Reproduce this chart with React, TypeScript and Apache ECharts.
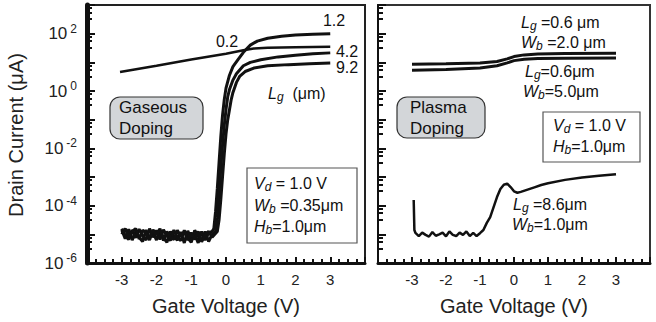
import React, { useEffect, useRef } from 'react';
import * as echarts from 'echarts';

const FF = '"Liberation Sans", Arial, Helvetica, sans-serif';

// Gate voltage ticks
const xTicks = [-3, -2, -1, 0, 1, 2, 3];

// ---- Left panel (Gaseous doping), log10 of drain current (uA) ----
const noiseV = [-3.0, -2.9, -2.8, -2.7, -2.6, -2.5, -2.4, -2.3, -2.2, -2.1, -2.0, -1.9, -1.8, -1.7, -1.6, -1.5, -1.4, -1.3, -1.2, -1.1, -1.0, -0.9, -0.8, -0.7, -0.6, -0.5, -0.4];
const noiseLg12 = [-4.85, -5.15, -4.82, -5.2, -4.9, -5.1, -5.25, -4.85, -5.12, -4.92, -5.2, -4.88, -5.1, -5.28, -4.9, -5.08, -5.2, -4.92, -5.3, -4.88, -5.18, -5.0, -5.3, -4.9, -5.2, -4.95, -4.9];
const noiseLg42 = [-4.8, -5.05, -5.18, -4.85, -5.12, -4.82, -5.05, -5.2, -4.8, -5.1, -4.86, -5.18, -4.84, -5.05, -5.22, -4.85, -5.1, -5.22, -4.86, -5.12, -5.28, -4.86, -5.08, -5.22, -4.9, -5.25, -5.0];
const noiseLg92 = [-5.0, -4.8, -5.1, -4.9, -4.8, -5.16, -4.86, -4.95, -5.2, -4.84, -5.02, -4.8, -5.22, -4.9, -5.1, -5.18, -4.86, -5.08, -4.9, -5.2, -4.94, -5.18, -4.9, -5.26, -5.0, -4.9, -5.1];

const riseV12 = [-0.35, -0.3, -0.25, -0.2, -0.15, -0.1, -0.05, 0, 0.1, 0.2, 0.35, 0.5, 0.7, 0.9, 1.2, 1.6, 2.0, 2.5, 3.0];
const riseLg12 = [-4.8, -4.2, -3.4, -2.5, -1.6, -0.85, -0.3, 0.1, 0.55, 0.85, 1.1, 1.35, 1.6, 1.74, 1.84, 1.91, 1.95, 1.98, 2.0];

const riseV42 = [-0.3, -0.25, -0.2, -0.15, -0.1, -0.05, 0, 0.05, 0.1, 0.2, 0.3, 0.5, 0.7, 1.0, 1.5, 2.0, 2.5, 3.0];
const riseLg42 = [-4.9, -4.4, -3.6, -2.7, -1.9, -1.2, -0.65, -0.2, 0.05, 0.38, 0.6, 0.88, 1.0, 1.09, 1.19, 1.25, 1.3, 1.33];

const riseV92 = [-0.25, -0.2, -0.15, -0.1, -0.05, 0, 0.05, 0.1, 0.15, 0.2, 0.3, 0.4, 0.55, 0.8, 1.2, 1.8, 2.4, 3.0];
const riseLg92 = [-4.9, -4.5, -3.8, -3.0, -2.2, -1.5, -1.0, -0.65, -0.3, -0.05, 0.3, 0.52, 0.68, 0.8, 0.88, 0.92, 0.95, 0.98];

const v02 = [-3.05, -2, -1, 0, 0.5, 0.8, 1.2, 2, 3];
const lg02 = [0.66, 0.88, 1.1, 1.3, 1.42, 1.48, 1.51, 1.53, 1.54];

// ---- Right panel (Plasma doping) ----
const vWide = [-3, -2, -1, -0.5, -0.2, 0, 0.3, 0.7, 1.5, 3];
const lgWb2 = [0.93, 0.95, 0.98, 1.03, 1.12, 1.2, 1.26, 1.29, 1.31, 1.32];
const lgWb5 = [0.72, 0.75, 0.8, 0.88, 0.98, 1.06, 1.11, 1.13, 1.14, 1.15];

const startV86 = [-2.95, -2.93];
const startLg86 = [-3.8, -4.85];
const noiseV86 = [-2.9, -2.8, -2.7, -2.6, -2.5, -2.4, -2.3, -2.2, -2.1, -2.0, -1.9, -1.8, -1.7, -1.6, -1.5, -1.4, -1.3, -1.2, -1.1, -1.0];
const noiseLg86 = [-4.95, -5.06, -4.94, -5.02, -5.08, -4.92, -5.05, -5.0, -4.94, -5.07, -4.9, -5.02, -5.06, -4.94, -5.02, -4.9, -5.06, -4.95, -5.06, -4.96];
const riseV86 = [-0.9, -0.8, -0.7, -0.6, -0.5, -0.4, -0.3, -0.2, -0.1, 0, 0.1, 0.2, 0.4, 0.6, 0.8, 1.0, 1.5, 2.0, 2.5, 3.0];
const riseLg86 = [-4.85, -4.6, -4.4, -4.05, -3.7, -3.42, -3.27, -3.23, -3.35, -3.5, -3.55, -3.52, -3.44, -3.36, -3.28, -3.22, -3.1, -3.02, -2.96, -2.9];

function pts(v: number[], lg: number[]) {
  return v.map((x, i) => [x, Math.pow(10, lg[i])]);
}

const rich: any = {
  n: { fontSize: 16, fontFamily: FF, fill: '#111', lineHeight: 17, verticalAlign: 'middle' },
  i: { fontSize: 16, fontFamily: FF, fontStyle: 'italic', fill: '#111', lineHeight: 17, verticalAlign: 'middle' },
  sub: { fontSize: 12, fontFamily: FF, fontStyle: 'italic', fill: '#111', verticalAlign: 'bottom', padding: [8, 0, 0, 0] },
  big: { fontSize: 17, fontFamily: FF, fill: '#111', lineHeight: 18, verticalAlign: 'middle' },
};

function txt(text: string, x: number, y: number, align = 'left') {
  return {
    type: 'text', x, y, z: 100,
    style: { text, rich, align, verticalAlign: 'middle', fontSize: 16, fontFamily: FF, fill: '#111' },
  };
}

function box(x: number, y: number, w: number, h: number, fill: string, r: number, stroke: string) {
  return { type: 'rect', z: 90, shape: { x, y, width: w, height: h, r }, style: { fill, stroke, lineWidth: 1.2 } };
}

function xAxisCfg(gridIndex: number) {
  return {
    type: 'value', gridIndex, min: -4, max: 4, interval: 1,
    axisLine: { show: true, onZero: false, lineStyle: { color: '#111', width: 3 } },
    axisTick: { show: true, inside: true, length: 6, lineStyle: { color: '#111', width: 2 } },
    minorTick: { show: true, splitNumber: 4, length: 4, lineStyle: { color: '#111', width: 2 } },
    splitLine: { show: false },
    axisLabel: {
      margin: 9, fontSize: 15, color: '#222', fontFamily: FF,
      formatter: (v: number) => (xTicks.indexOf(v) >= 0 ? String(v) : ''),
    },
    name: 'Gate Voltage (V)', nameLocation: 'middle', nameGap: 33,
    nameTextStyle: { fontSize: 20, color: '#222', fontFamily: FF },
  };
}

function yAxisCfg(gridIndex: number, showLabels: boolean) {
  return {
    type: 'log', logBase: 10, gridIndex, min: 1e-6, max: 1e3, splitNumber: 9,
    axisLine: { show: true, onZero: false, lineStyle: { color: '#111', width: showLabels ? 5 : 2 } },
    axisTick: { show: true, inside: true, length: 8, lineStyle: { color: '#111', width: 2 } },
    minorTick: { show: true, splitNumber: 4, length: 5, lineStyle: { color: '#111', width: 2 } },
    splitLine: { show: false },
    axisLabel: {
      show: showLabels, margin: 10, fontFamily: FF, color: '#222',
      formatter: (v: number) => {
        const e = Math.round(Math.log10(v));
        if (e % 2 !== 0) return '';
        return '{b|10}{s|' + e + '}';
      },
      rich: {
        b: { fontSize: 17, fontFamily: FF, color: '#222', lineHeight: 22, verticalAlign: 'middle' },
        s: { fontSize: 12, fontFamily: FF, color: '#222', lineHeight: 12, verticalAlign: 'top', padding: [0, 0, 0, 3] },
      },
    },
  };
}

function line(xi: number, data: number[][], width = 3) {
  return {
    type: 'line', xAxisIndex: xi, yAxisIndex: xi, data, showSymbol: false, symbol: 'none',
    lineStyle: { color: '#111', width }, silent: true,
  };
}

export default function App() {
  const ref = useRef<HTMLDivElement>(null);
  useEffect(() => {
    const chart = echarts.init(ref.current!, null, { renderer: 'svg' });
    const option: any = {
      animation: false,
      backgroundColor: '#fff',
      grid: [
        { left: 87, top: 5, width: 278, height: 258, show: true, borderColor: '#222', borderWidth: 2 },
        { left: 378, top: 5, width: 272, height: 258, show: true, borderColor: '#333', borderWidth: 2 },
      ],
      xAxis: [xAxisCfg(0), xAxisCfg(1)],
      yAxis: [yAxisCfg(0, true), yAxisCfg(1, false)],
      series: [
        line(0, pts(noiseV, noiseLg12).concat(pts(riseV12, riseLg12))),
        line(0, pts(noiseV, noiseLg42).concat(pts(riseV42, riseLg42))),
        line(0, pts(noiseV, noiseLg92).concat(pts(riseV92, riseLg92))),
        line(0, pts(v02, lg02), 2.5),
        line(1, pts(vWide, lgWb2)),
        line(1, pts(vWide, lgWb5)),
        line(1, pts(startV86, startLg86).concat(pts(noiseV86, noiseLg86), pts(riseV86, riseLg86)), 2.5),
      ],
      graphic: [
        { type: 'text', x: 16, y: 135, rotation: Math.PI / 2, z: 100,
          style: { text: 'Drain Current (\u03bcA)', fontSize: 20, fontFamily: FF, fill: '#222', align: 'center', verticalAlign: 'middle' } },
        // left panel labels
        txt('1.2', 334, 20, 'center'),
        txt('0.2', 227, 41, 'center'),
        txt('4.2', 347, 51, 'center'),
        txt('9.2', 347, 67, 'center'),
        txt('{i|L}{sub|g}{n|  (\u03bcm)}', 268, 93),
        box(110, 97, 93, 42, '#d3d6d9', 10, '#333'),
        txt('{big|Gaseous}', 119, 107),
        txt('{big|Doping}', 119, 128),
        box(247, 168, 110, 75, '#fff', 0, '#555'),
        txt('{i|V}{sub|d}{n| = 1.0 V}', 254, 183),
        txt('{i|W}{sub|b}{n| =0.35\u03bcm}', 254, 205),
        txt('{i|H}{sub|b}{n|=1.0\u03bcm}', 254, 226),
        // right panel labels
        txt('{i|L}{sub|g}{n| =0.6 \u03bcm}', 521, 22),
        txt('{i|W}{sub|b}{n| =2.0 \u03bcm}', 521, 42),
        txt('{i|L}{sub|g}{n|=0.6\u03bcm}', 525, 71),
        txt('{i|W}{sub|b}{n|=5.0\u03bcm}', 523, 91),
        box(397, 97, 88, 41, '#d3d6d9', 10, '#333'),
        txt('{big|Plasma}', 410, 107),
        txt('{big|Doping}', 410, 128),
        box(543, 112, 97, 50, '#fff', 0, '#555'),
        txt('{i|V}{sub|d}{n| = 1.0 V}', 553, 125),
        txt('{i|H}{sub|b}{n|=1.0\u03bcm}', 553, 146),
        txt('{i|L}{sub|g}{n| =8.6\u03bcm}', 513, 204),
        txt('{i|W}{sub|b}{n|=1.0\u03bcm}', 512, 224),
      ],
    };
    chart.setOption(option);
    return () => chart.dispose();
  }, []);
  return <div ref={ref} style={{ position: 'fixed', left: 0, top: 0, width: 656, height: 322, background: '#fff' }} />;
}
